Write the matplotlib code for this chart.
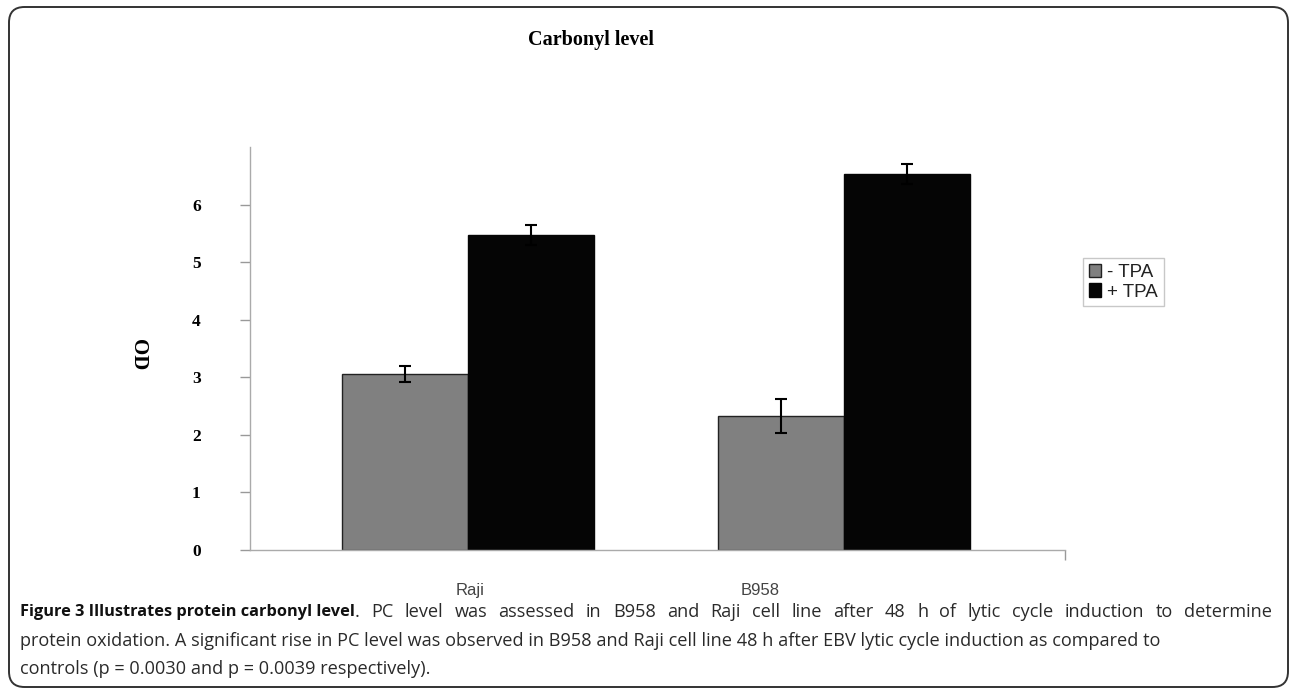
import matplotlib
matplotlib.use("Agg")
import matplotlib.pyplot as plt
import matplotlib.transforms as mtransforms
from matplotlib.patches import FancyBboxPatch
import numpy as np

# ---- data ----
categories = ["Raji", "B958"]
series_names = ["- TPA", "+ TPA"]
minus_tpa = [3.05, 2.33]
plus_tpa = [5.47, 6.53]
minus_err = [0.14, 0.29]
plus_err = [0.17, 0.17]
ytick_values = [0, 1, 2, 3, 4, 5, 6]
title = "Carbonyl level"
ylabel = "OD"
caption_bold = "Figure 3 Illustrates protein carbonyl level"
caption_lines = [
    ". PC level was assessed in B958 and Raji cell line after 48 h of lytic cycle induction to determine",
    "protein oxidation. A significant rise in PC level was observed in B958 and Raji cell line 48 h after EBV lytic cycle induction as compared to",
    "controls (p = 0.0030 and p = 0.0039 respectively).",
]

W, H = 1292, 689
fig = plt.figure(figsize=(W / 100, H / 100), dpi=100)
fig.patch.set_facecolor("white")

# border
border = FancyBboxPatch((9 / W, 1 - 687 / H), (1288 - 9) / W, (687 - 7) / H,
                        boxstyle="round,pad=0,rounding_size=0.012",
                        transform=fig.transFigure, fill=False,
                        edgecolor="#333333", linewidth=1.4, mutation_aspect=W / H)
fig.add_artist(border)

ax = fig.add_axes([250 / W, 1 - 550 / H, 815 / W, (550 - 147) / H])
x = np.arange(len(categories))
w = 0.335
err_kw = dict(ecolor="black", elinewidth=1.5, capsize=4.5, capthick=1.5)
b1 = ax.bar(x - w / 2, minus_tpa, w, yerr=minus_err, color="#808080",
            edgecolor="#222222", linewidth=1.0, error_kw=err_kw, label=series_names[0])
b2 = ax.bar(x + w / 2, plus_tpa, w, yerr=plus_err, color="#050505",
            edgecolor="#050505", linewidth=1.0, error_kw=err_kw, label=series_names[1])

ax.set_xlim(-0.58, 1.588)
ax.set_ylim(0, 7)
ax.set_yticks(ytick_values)
ax.set_yticklabels([str(v) for v in ytick_values], fontfamily="Liberation Serif",
                   fontweight="bold", fontsize=12.5)
ax.tick_params(axis="y", direction="out", length=7, width=1, color="#999999", pad=40)
for lab in ax.get_yticklabels():
    lab.set_transform(lab.get_transform() + mtransforms.ScaledTranslation(16 / 100, 0, fig.dpi_scale_trans))
ax.set_xticks(x)
ax.set_xticklabels(categories, fontfamily="Liberation Sans", fontsize=12, color="#444444")
ax.tick_params(axis="x", length=0, pad=24)
# shift labels like the reference
offsets = [2, -84]
for lab, dx in zip(ax.get_xticklabels(), offsets):
    lab.set_transform(lab.get_transform() + mtransforms.ScaledTranslation(dx / 100, 0, fig.dpi_scale_trans))
ax.set_xticks([1.588], minor=True)
ax.tick_params(axis="x", which="minor", length=7, width=1, color="#999999")

for s in ["top", "right"]:
    ax.spines[s].set_visible(False)
for s in ["left", "bottom"]:
    ax.spines[s].set_color("#aaaaaa")
    ax.spines[s].set_linewidth(1.0)

ax.text((138 - 250) / 815, (550 - 355) / (550 - 147), ylabel,
        transform=ax.transAxes, rotation=270, ha="center", va="center",
        fontfamily="Liberation Serif", fontweight="bold", fontsize=15)

fig.text(591 / W, 1 - 40 / H, title, ha="center", va="center",
         fontfamily="Liberation Serif", fontweight="bold", fontsize=14.5)

leg = fig.legend(handles=[b1, b2], labels=series_names, loc="upper left",
                 bbox_to_anchor=(1083 / W, 1 - 258 / H), frameon=True, fancybox=False,
                 prop={"family": "Liberation Sans", "size": 13.5}, handlelength=0.65,
                 handleheight=0.75, handletextpad=0.35, borderpad=0.3, labelspacing=0.12,
                 borderaxespad=0)
leg.get_frame().set_edgecolor("#bbbbbb")
leg.get_frame().set_linewidth(1.0)
for t in leg.get_texts():
    t.set_color("#222222")

# ---- caption ----
cap_fs = 13.1
renderer = fig.canvas.get_renderer()
reg_color = "#2a2a2a"

# line 1: bold lead-in, then justified regular words up to the right margin
tb = fig.text(20 / W, 1 - 612 / H, caption_bold, ha="left", va="center",
              fontfamily="Open Sans", fontweight="bold", fontsize=11.8, color="#111111")
xc = tb.get_window_extent(renderer).x1
words = caption_lines[0].split(" ")
arts, widths = [], []
for wd in words:
    t = fig.text(0, 1 - 612 / H, wd, ha="left", va="center",
                 fontfamily="Open Sans", fontsize=cap_fs, color=reg_color)
    arts.append(t)
    widths.append(t.get_window_extent(renderer).width)
gap = (1272 - xc - sum(widths)) / (len(words) - 1)
for t, wdt in zip(arts, widths):
    t.set_x(xc / W)
    xc += wdt + gap

fig.text(20 / W, 1 - 641 / H, caption_lines[1], ha="left", va="center",
         fontfamily="Open Sans", fontsize=cap_fs, color=reg_color)
fig.text(20 / W, 1 - 669 / H, caption_lines[2], ha="left", va="center",
         fontfamily="Open Sans", fontsize=cap_fs, color=reg_color)

fig.savefig("out.png", dpi=100, facecolor="white")
